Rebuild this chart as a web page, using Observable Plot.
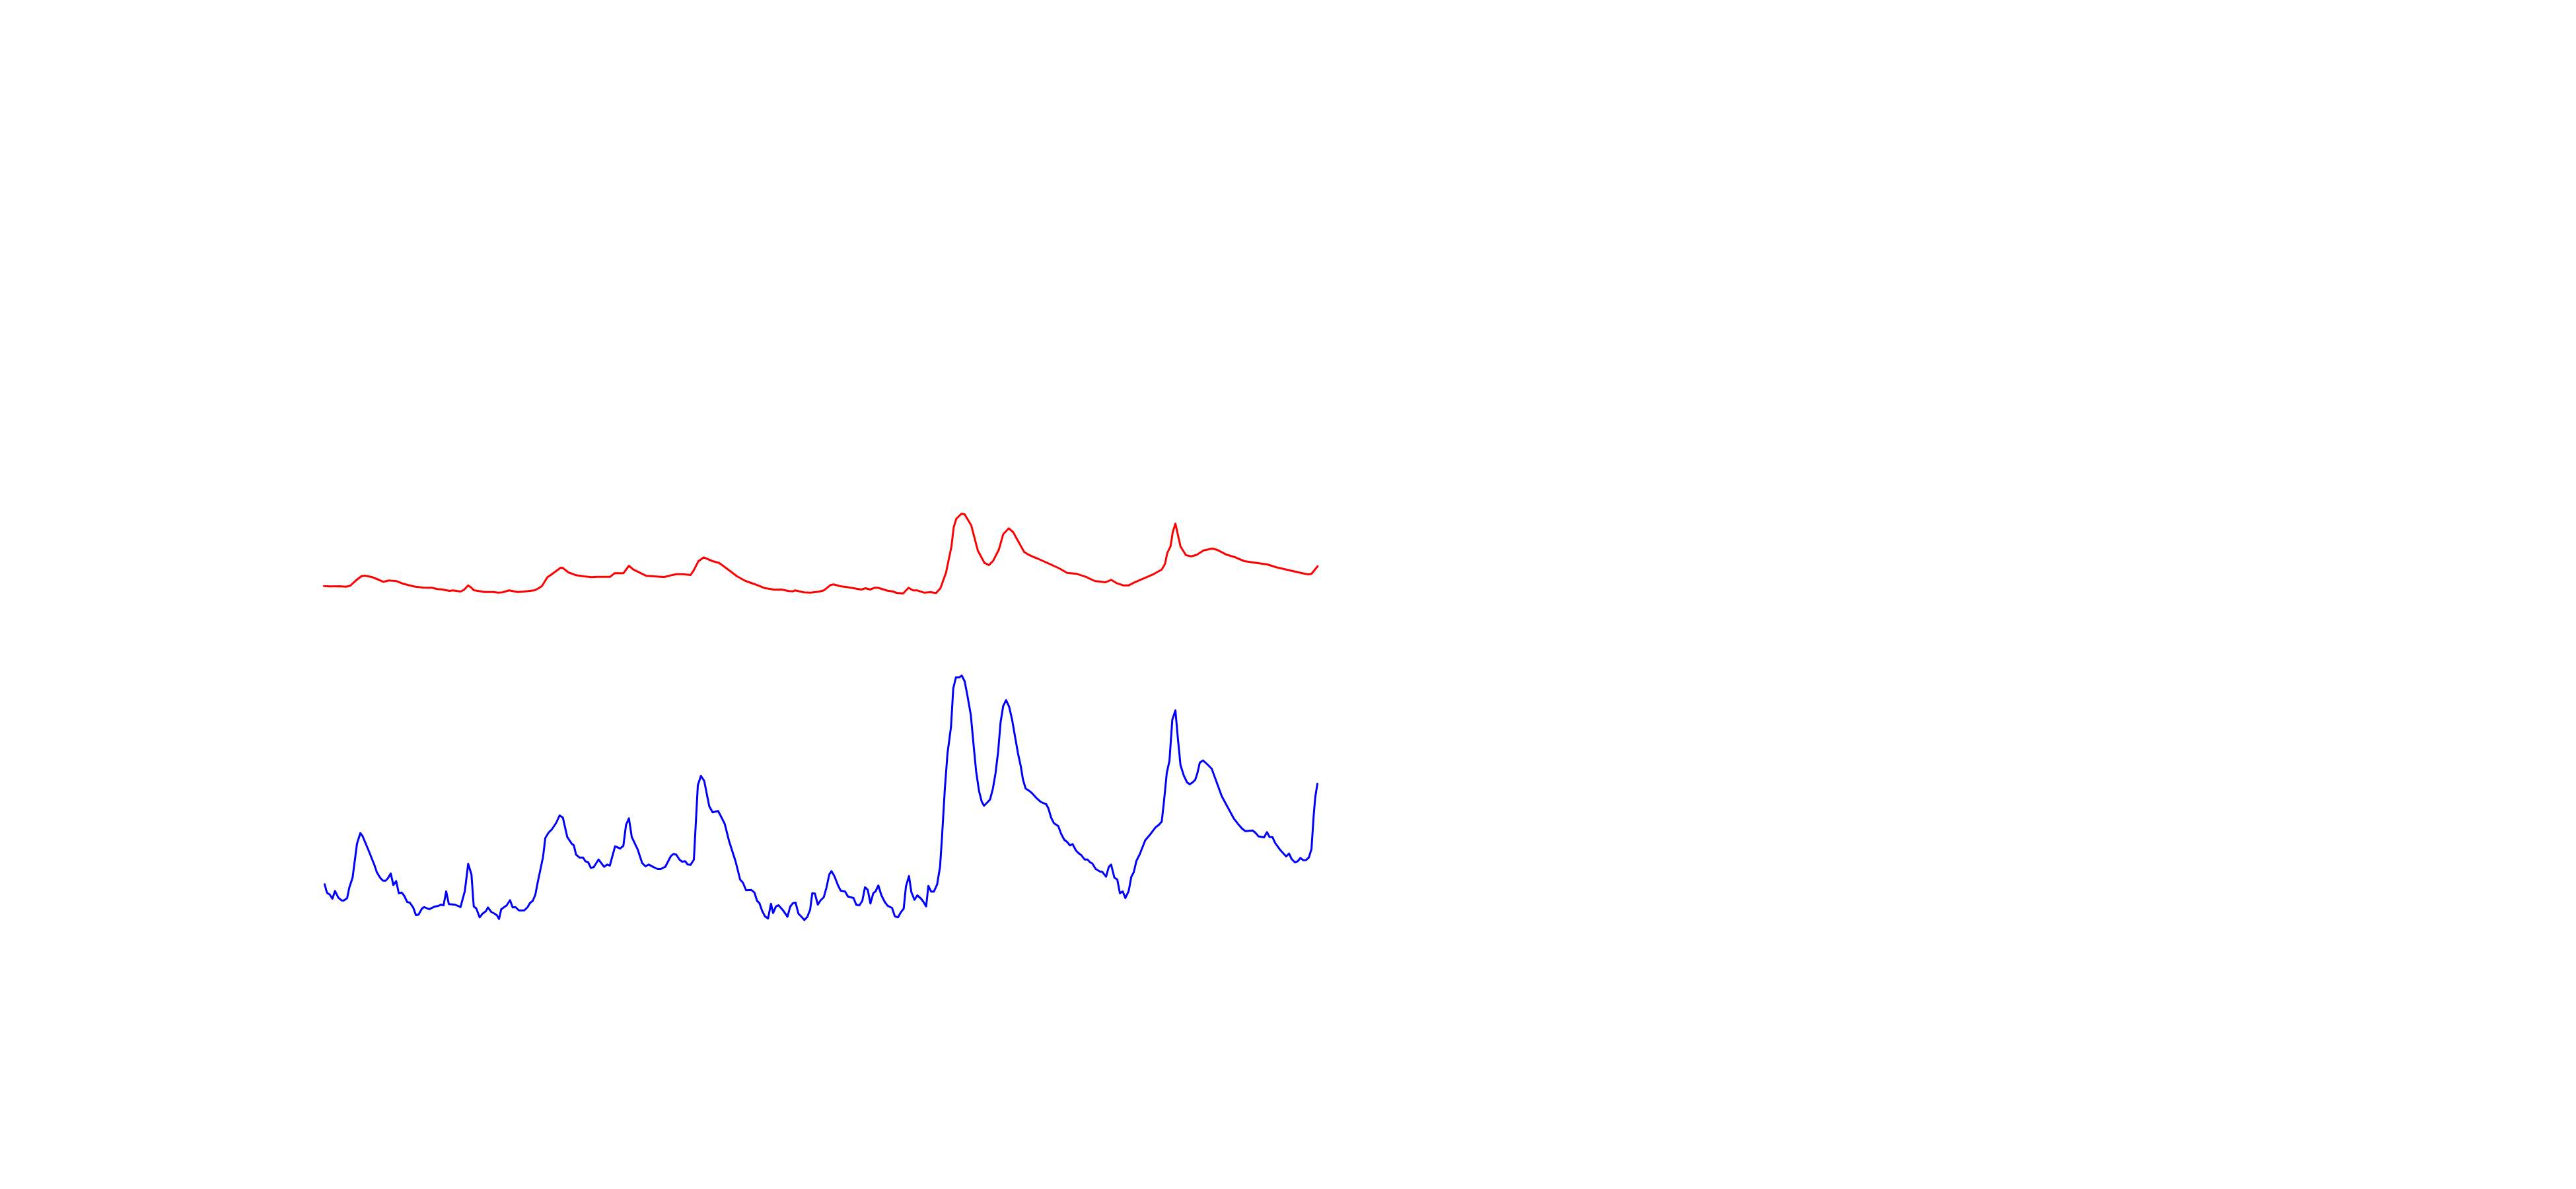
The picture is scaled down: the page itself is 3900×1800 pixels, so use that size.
<!DOCTYPE html>
<html>
<head>
<meta charset="utf-8">
<script src="https://cdn.jsdelivr.net/npm/d3@7"></script>
<script src="https://cdn.jsdelivr.net/npm/@observablehq/plot@0.6"></script>
<style>
  html, body { margin: 0; padding: 0; background: #ffffff; }
  #chart svg { display: block; }
</style>
</head>
<body>
<div id="chart"></div>
<script>
// Red series: time index and value
const redT = [0, 1.25, 2.91, 4.16, 5, 6.04, 7.09, 7.71, 9.16, 10, 11.25, 12.29, 13.75, 14.79, 15.84, 17.29, 18.75, 20.41, 21.46, 22.29, 23.75, 24.38, 25.84, 26.46, 27.29, 27.91, 28.34, 30.41, 32.09, 32.91, 33.75, 35, 36.66, 37.91, 39.79, 40.41, 41.25, 42.29, 42.91, 44.79, 45.21, 46.25, 47.71, 49.16, 50.63, 51.66, 54.16, 55, 56.66, 57.71, 58.54, 60, 61.04, 62.5, 63.75, 64.38, 66.66, 67.91, 69.38, 70, 70.84, 71.88, 73.54, 74.79, 76.66, 78.13, 79.59, 80.84, 82.09, 83.34, 84.59, 85.21, 86.66, 87.91, 88.75, 89.16, 90.84, 92.09, 93.75, 94.59, 95.84, 96.46, 97.91, 98.96, 101.66, 102.5, 103.34, 104.16, 104.79, 106.66, 107.71, 108.34, 109.59, 110.63, 111.46, 112.29, 113.54, 114.79, 115.84, 116.66, 117.71, 118.75, 119.16, 119.66, 120.63, 121.25, 122.5, 123.75, 125, 125.84, 126.66, 127.71, 128.54, 129.59, 130.41, 132.5, 133.13, 133.96, 135, 137.09, 139.16, 140.63, 142.5, 144.16, 145.84, 147.91, 148.96, 150, 151.25, 152.29, 153.34, 155, 157.09, 158.54, 159.16, 159.59, 160.21, 160.63, 161.13, 162.09, 163.13, 164.16, 165.21, 166.46, 168.13, 168.96, 170.84, 172.5, 174.16, 175.63, 178.54, 180.21, 182.91, 185.41, 186.25, 186.88, 188.04];
const redV = [56.33, 56.27, 56.3, 56.23, 56.4, 57.17, 57.83, 57.9, 57.67, 57.4, 56.97, 57.17, 57.07, 56.73, 56.5, 56.23, 56.1, 56.07, 55.87, 55.83, 55.6, 55.67, 55.5, 55.73, 56.43, 56.07, 55.7, 55.43, 55.43, 55.33, 55.37, 55.67, 55.43, 55.5, 55.67, 55.9, 56.33, 57.67, 58, 59.1, 59.07, 58.4, 57.97, 57.8, 57.67, 57.73, 57.73, 58.27, 58.27, 59.4, 58.83, 58.27, 57.87, 57.8, 57.73, 57.7, 58.13, 58.13, 58, 58.73, 60.07, 60.67, 60.1, 59.83, 58.73, 57.83, 57.17, 56.8, 56.43, 56.03, 55.87, 55.77, 55.8, 55.57, 55.53, 55.67, 55.37, 55.33, 55.5, 55.67, 56.47, 56.57, 56.27, 56.17, 55.8, 56, 55.8, 56.07, 56.07, 55.63, 55.5, 55.3, 55.2, 56.07, 55.67, 55.67, 55.33, 55.4, 55.27, 56, 58.33, 62.33, 65.17, 66.5, 67.27, 67.17, 65.5, 61.67, 59.83, 59.5, 60.17, 61.83, 64.17, 65.07, 64.5, 61.5, 61.17, 60.83, 60.5, 59.77, 59, 58.33, 58.17, 57.73, 57.1, 56.9, 57.27, 56.77, 56.43, 56.43, 56.87, 57.43, 58.17, 58.83, 59.67, 61.33, 62.33, 64.5, 65.77, 62.33, 61, 60.83, 61.07, 61.73, 62, 61.83, 61.07, 60.67, 60.1, 59.93, 59.6, 59.17, 58.67, 58.23, 58.1, 58.17, 59.33];

// Blue series: time index and value
const blueT = [0.13, 0.41, 0.63, 1.04, 1.59, 2.09, 2.71, 3.34, 3.75, 4.38, 4.79, 5.41, 6.25, 6.88, 7.29, 8.34, 9.59, 10, 10.63, 11.16, 11.66, 12.09, 12.63, 13.13, 13.66, 14.16, 14.71, 15.21, 15.75, 16.25, 16.88, 17.41, 17.91, 18.54, 18.96, 19.59, 20, 21.04, 21.66, 22.09, 22.63, 23.13, 23.63, 24.79, 25.84, 26.66, 27.29, 27.91, 28.34, 28.84, 29.46, 30, 30.63, 31.04, 31.66, 32.29, 32.71, 33.13, 33.54, 34.59, 35.21, 35.71, 36.25, 36.88, 37.91, 38.54, 38.96, 39.5, 40, 40.41, 41.46, 41.88, 42.5, 43.13, 43.96, 44.59, 45.21, 46.04, 46.88, 47.29, 47.71, 48.34, 49.04, 49.46, 50, 50.5, 51.04, 51.96, 53, 53.63, 54.09, 55.09, 56.04, 56.66, 57.16, 57.71, 58.25, 59.38, 60.21, 60.84, 61.46, 62.41, 63.13, 63.75, 64.59, 65.63, 66.13, 66.66, 67.29, 67.79, 68.34, 68.84, 69.38, 70, 70.75, 71.34, 71.96, 72.91, 73.54, 74.59, 75.21, 75.84, 76.66, 77.91, 78.75, 79.29, 79.88, 80.84, 81.46, 81.96, 82.41, 82.91, 83.46, 84.04, 84.59, 85, 85.54, 86.04, 86.88, 87.71, 88.25, 88.75, 89.25, 89.79, 90.41, 90.91, 91.46, 92, 92.41, 92.91, 93.46, 93.96, 94.59, 95.09, 95.63, 96.04, 96.59, 97.29, 97.79, 98.63, 99.16, 100.21, 100.75, 101.34, 101.88, 102.38, 102.91, 103.41, 103.96, 104.38, 104.91, 105.5, 106.13, 106.66, 107.5, 108.04, 108.63, 109.16, 109.71, 110.13, 110.71, 111.16, 111.75, 112.29, 113, 113.46, 113.96, 114.38, 114.91, 115.41, 116.04, 116.59, 116.96, 117.5, 118, 118.66, 119.09, 119.59, 120.21, 120.71, 121.25, 121.75, 122.41, 122.91, 123.41, 123.96, 124.46, 124.91, 125.54, 126.04, 126.59, 127.09, 127.59, 128.04, 128.54, 129.09, 129.66, 130.21, 130.75, 131.34, 131.88, 132.29, 132.79, 133.46, 133.96, 134.79, 135.63, 136.34, 136.66, 137.09, 137.63, 138.13, 138.96, 139.5, 140.09, 140.63, 141.16, 141.66, 142.29, 142.79, 143.34, 143.96, 144.5, 145, 145.41, 146.04, 146.88, 147.29, 148, 148.54, 148.96, 149.59, 150.13, 150.63, 151.16, 151.66, 152.29, 152.79, 153.25, 153.75, 154.38, 155.41, 156.46, 157.41, 158, 158.54, 158.96, 159.5, 160, 160.54, 161.13, 161.59, 162.09, 162.71, 163.34, 163.84, 164.38, 164.88, 165.29, 165.75, 166.34, 167.09, 168, 168.96, 169.91, 171.04, 172.16, 173.13, 173.75, 174.38, 175.75, 176.25, 176.88, 177.91, 178.46, 178.96, 179.5, 180, 180.91, 182.09, 182.63, 183.13, 183.75, 184.29, 184.79, 185.29, 185.84, 186.38, 186.88, 187.29, 187.59, 188];
const blueV = [11.17, 10.33, 9.83, 9.67, 9, 10.17, 9.17, 8.73, 8.73, 9.07, 10.67, 12.17, 17.33, 18.93, 18.5, 16.5, 14, 13, 12.17, 11.73, 11.73, 12.07, 12.83, 11.07, 11.67, 9.83, 9.93, 9.4, 8.5, 8.4, 7.67, 6.5, 6.6, 7.5, 7.73, 7.5, 7.43, 7.83, 7.9, 8.1, 8, 10.1, 8.17, 8.1, 7.73, 10.17, 14.27, 12.67, 7.83, 7.5, 6.17, 6.73, 7.1, 7.67, 7, 6.73, 6.5, 5.93, 7.4, 8, 8.77, 7.67, 7.73, 7.23, 7.23, 7.73, 8.33, 8.67, 9.6, 11.33, 15.33, 18.17, 19, 19.5, 20.5, 21.6, 21.27, 18.33, 17.33, 17.07, 15.67, 15.23, 15.23, 14.67, 14.5, 13.67, 13.77, 14.93, 13.83, 14.17, 14, 16.93, 16.6, 17, 20.17, 21.17, 18.33, 16.43, 14.4, 13.9, 14.17, 13.77, 13.5, 13.5, 13.83, 15.43, 15.77, 15.67, 14.9, 14.6, 14.67, 14.17, 14.13, 14.9, 26.17, 27.6, 26.83, 23, 22.07, 22.27, 21.33, 20.33, 17.73, 14.6, 11.9, 11.43, 10.27, 10.33, 9.93, 8.67, 8.33, 7.17, 6.33, 6, 8.23, 6.83, 7.83, 8, 7.23, 6.27, 7.83, 8.33, 8.4, 6.73, 6.23, 5.77, 6.23, 7.33, 9.83, 9.77, 8.1, 8.73, 9.23, 10.67, 12.67, 13.17, 12.43, 11, 10.23, 10.07, 9.33, 9.1, 8.07, 8, 8.67, 10.73, 10.33, 8.27, 9.83, 10.1, 11, 9.5, 8.5, 7.93, 7.6, 6.33, 6.17, 6.93, 7.5, 10.83, 12.43, 10, 8.83, 9.5, 9, 8.5, 7.83, 10.93, 10.07, 10.07, 11.17, 13.83, 18.33, 25.67, 31, 35, 40.83, 42.5, 42.5, 42.77, 41.9, 39.83, 36.83, 32.5, 28.33, 25.33, 23.73, 23.07, 23.57, 24, 25.67, 28, 31.33, 35.67, 38.17, 39.07, 38.07, 36.17, 33.67, 31, 29, 27, 25.67, 25.33, 25, 24.27, 23.67, 23.4, 23.33, 22.67, 21.23, 20.43, 20, 18.83, 17.93, 17.6, 17.07, 17.27, 16.33, 15.9, 15.57, 14.93, 14.93, 14.5, 14.33, 13.5, 13.1, 13.07, 12.33, 13.83, 14.17, 12.17, 11.9, 9.83, 10.1, 9.1, 10.17, 12.33, 13, 14.73, 15.73, 17.83, 18.83, 19.83, 20.17, 20.67, 23.67, 28.07, 29.83, 36.07, 37.5, 33.33, 29.23, 27.67, 26.6, 26.33, 26.6, 27, 28, 29.6, 29.93, 29.4, 28.67, 26.57, 24.5, 22.83, 21.17, 20.17, 19.6, 19.23, 19.33, 19, 18.43, 18.27, 19.07, 18.33, 18.33, 17.43, 16.43, 15.4, 15.83, 15, 14.5, 14.67, 15.17, 14.83, 14.83, 15.23, 16.5, 21.5, 24.33, 26.4];

const seriesNames = ["red", "blue"];
const seriesColors = ["#ff0000", "#0000ff"];

const redData = redT.map((t, i) => ({t, v: redV[i], s: seriesNames[0]}));
const blueData = blueT.map((t, i) => ({t, v: blueV[i], s: seriesNames[1]}));

const chart = Plot.plot({
  width: 3900,
  height: 1800,
  margin: 0,
  style: {background: "#ffffff"},
  x: {domain: [0, 188], range: [490, 1994], axis: null},
  y: {domain: [0, 80], range: [1450, 650], axis: null},
  marks: [
    Plot.line(redData, {x: "t", y: "v", stroke: seriesColors[0], strokeWidth: 3}),
    Plot.line(blueData, {x: "t", y: "v", stroke: seriesColors[1], strokeWidth: 3})
  ]
});
document.getElementById("chart").appendChild(chart);
</script>
</body>
</html>
